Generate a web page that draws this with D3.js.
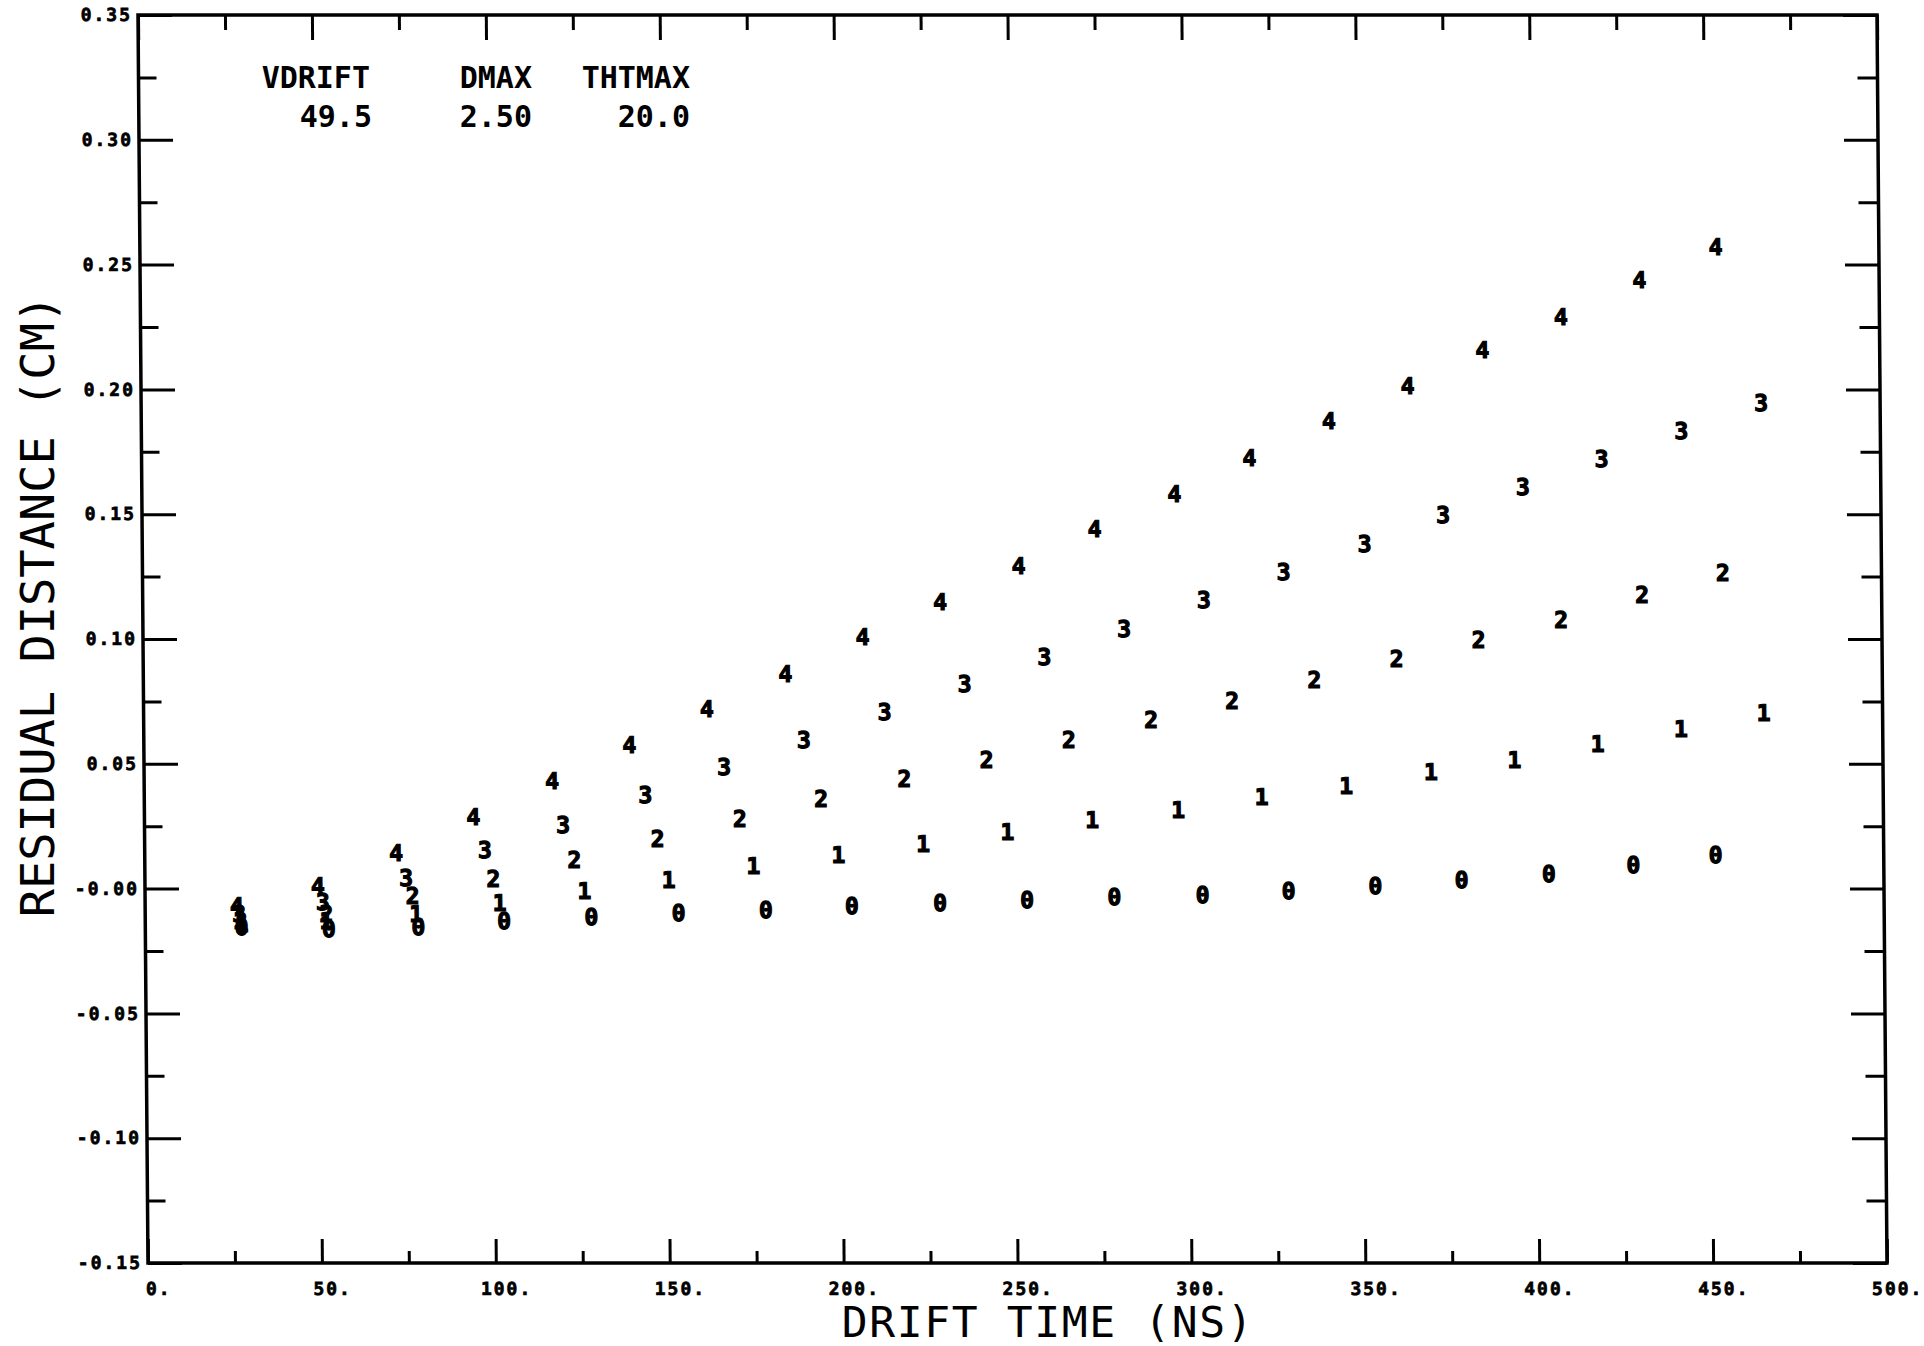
<!DOCTYPE html>
<html>
<head>
<meta charset="utf-8">
<script src="https://cdn.jsdelivr.net/npm/d3@7"></script>
<style>
  html, body { margin: 0; padding: 0; background: #ffffff; }
  svg { display: block; }
</style>
</head>
<body>
<script>
// ---------------- DATA ----------------
const seriesLabels = ["0", "1", "2", "3", "4"];

const time0 = [27.7, 52.8, 78.5, 103.2, 128.3, 153.4, 178.5, 203.2, 228.6, 253.6, 278.7, 304.1, 328.8, 353.8, 378.6, 403.7, 428.0, 451.7];
const resid0 = [-0.0152, -0.0161, -0.0152, -0.0127, -0.0112, -0.0097, -0.0083, -0.0068, -0.0058, -0.0043, -0.0033, -0.0024, -0.0009, 0.0011, 0.0035, 0.0060, 0.0094, 0.0134];

const time1 = [27.7, 52.1, 77.9, 101.9, 126.3, 150.6, 175.0, 199.4, 223.8, 248.1, 272.5, 297.2, 321.3, 345.6, 370.0, 394.0, 418.0, 442.0, 465.8];
const resid1 = [-0.0142, -0.0127, -0.0102, -0.0058, -0.0009, 0.0035, 0.0090, 0.0134, 0.0178, 0.0227, 0.0276, 0.0316, 0.0370, 0.0414, 0.0468, 0.0517, 0.0581, 0.0640, 0.0704];

const time2 = [27.4, 52.1, 76.9, 100.2, 123.5, 147.5, 171.2, 194.6, 218.6, 242.3, 266.0, 289.7, 313.0, 336.7, 360.4, 384.0, 407.8, 431.1, 454.4];
const resid2 = [-0.0127, -0.0102, -0.0029, 0.0040, 0.0114, 0.0198, 0.0281, 0.0360, 0.0439, 0.0517, 0.0596, 0.0675, 0.0753, 0.0837, 0.0920, 0.0999, 0.1078, 0.1176, 0.1265];

const time3 = [27.0, 51.1, 75.1, 97.8, 120.4, 144.1, 166.8, 189.8, 213.1, 236.1, 259.1, 282.1, 305.1, 328.1, 351.5, 374.1, 397.1, 419.8, 442.8, 465.8];
const resid3 = [-0.0102, -0.0053, 0.0045, 0.0154, 0.0257, 0.0375, 0.0488, 0.0596, 0.0709, 0.0822, 0.0930, 0.1043, 0.1156, 0.1269, 0.1383, 0.1496, 0.1609, 0.1722, 0.1835, 0.1948];

const time4 = [26.4, 49.7, 72.3, 94.6, 117.3, 139.6, 162.0, 184.6, 206.9, 229.3, 251.9, 273.9, 296.9, 318.5, 341.5, 364.2, 385.8, 408.4, 431.1, 453.1];
const resid4 = [-0.0068, 0.0011, 0.0144, 0.0286, 0.0434, 0.0576, 0.0719, 0.0861, 0.1009, 0.1151, 0.1294, 0.1441, 0.1584, 0.1726, 0.1874, 0.2016, 0.2159, 0.2292, 0.2439, 0.2572];

const xMajorTicks = [0, 50, 100, 150, 200, 250, 300, 350, 400, 450, 500];
const xTickLabels = ["0.", "50.", "100.", "150.", "200.", "250.", "300.", "350.", "400.", "450.", "500."];
const xMinorTicks = [25, 75, 125, 175, 225, 275, 325, 375, 425, 475];

const yMajorTicks = [-0.15, -0.10, -0.05, 0.00, 0.05, 0.10, 0.15, 0.20, 0.25, 0.30, 0.35];
const yTickLabels = ["-0.15", "-0.10", "-0.05", "-0.00", "0.05", "0.10", "0.15", "0.20", "0.25", "0.30", "0.35"];
const yMinorTicks = [-0.125, -0.075, -0.025, 0.025, 0.075, 0.125, 0.175, 0.225, 0.275, 0.325];

const legendHeaders = ["VDRIFT", "DMAX", "THTMAX"];
const legendValues = ["49.5", "2.50", "20.0"];

const xTitle = "DRIFT TIME (NS)";
const yTitle = "RESIDUAL DISTANCE (CM)";

// ---------------- LAYOUT ----------------
const W = 1924, H = 1346;
const PX = 138, PY = 15, PW = 1739, PH = 1248;
const shearDeg = Math.atan(10 / PH) * 180 / Math.PI;

const svg = d3.select("body").append("svg")
  .attr("width", W).attr("height", H)
  .attr("viewBox", `0 0 ${W} ${H}`);

svg.append("rect").attr("width", W).attr("height", H).attr("fill", "#ffffff");

const x = d3.scaleLinear().domain([0, 500]).range([0, PW]);
const y = d3.scaleLinear().domain([-0.15, 0.35]).range([PH, 0]);

const g = svg.append("g")
  .attr("transform", `translate(${PX},${PY}) skewX(${shearDeg})`);

const tickFont = "'DejaVu Sans Mono', monospace";

function styleAxis(sel, width) {
  sel.select(".domain").remove();
  sel.selectAll(".tick line").attr("stroke", "#000").attr("stroke-width", width);
  sel.selectAll(".tick text")
    .attr("fill", "#000")
    .attr("stroke", "#000")
    .attr("stroke-width", 0.7)
    .style("font-family", tickFont)
    .style("font-weight", "bold")
    .style("font-size", "18px")
    .style("letter-spacing", "2px");
}

// bottom axis
g.append("g").attr("transform", `translate(0,${PH})`)
  .call(d3.axisBottom(x).tickValues(xMajorTicks).tickSize(-24).tickSizeOuter(0)
    .tickPadding(19).tickFormat((d, i) => xTickLabels[i]))
  .call(s => styleAxis(s, 3))
  .call(s => s.selectAll(".tick text").attr("dx", 10));
g.append("g").attr("transform", `translate(0,${PH})`)
  .call(d3.axisBottom(x).tickValues(xMinorTicks).tickSize(-12).tickSizeOuter(0).tickFormat(""))
  .call(s => styleAxis(s, 3));

// top axis
g.append("g")
  .call(d3.axisTop(x).tickValues(xMajorTicks).tickSize(-25).tickSizeOuter(0).tickFormat(""))
  .call(s => styleAxis(s, 3));
g.append("g")
  .call(d3.axisTop(x).tickValues(xMinorTicks).tickSize(-15).tickSizeOuter(0).tickFormat(""))
  .call(s => styleAxis(s, 3));

// left axis
g.append("g")
  .call(d3.axisLeft(y).tickValues(yMajorTicks).tickSize(-34).tickSizeOuter(0)
    .tickPadding(6).tickFormat((d, i) => yTickLabels[i]))
  .call(s => styleAxis(s, 3));
g.append("g")
  .call(d3.axisLeft(y).tickValues(yMinorTicks).tickSize(-18).tickSizeOuter(0).tickFormat(""))
  .call(s => styleAxis(s, 3));

// right axis
g.append("g").attr("transform", `translate(${PW},0)`)
  .call(d3.axisRight(y).tickValues(yMajorTicks).tickSize(-34).tickSizeOuter(0).tickFormat(""))
  .call(s => styleAxis(s, 3));
g.append("g").attr("transform", `translate(${PW},0)`)
  .call(d3.axisRight(y).tickValues(yMinorTicks).tickSize(-20).tickSizeOuter(0).tickFormat(""))
  .call(s => styleAxis(s, 3));

// frame
g.append("rect").attr("x", 0).attr("y", 0).attr("width", PW).attr("height", PH)
  .attr("fill", "none").attr("stroke", "#000").attr("stroke-width", 3.5);

// markers
const allSeries = [
  { label: seriesLabels[0], t: time0, r: resid0 },
  { label: seriesLabels[1], t: time1, r: resid1 },
  { label: seriesLabels[2], t: time2, r: resid2 },
  { label: seriesLabels[3], t: time3, r: resid3 },
  { label: seriesLabels[4], t: time4, r: resid4 }
];

allSeries.forEach(s => {
  const pts = s.t.map((t, i) => ({ t: t, r: s.r[i] }));
  g.append("g").attr("class", "series-" + s.label)
    .selectAll("text").data(pts).join("text")
    .attr("x", d => x(d.t))
    .attr("y", d => y(d.r))
    .attr("dy", "0.36em")
    .attr("text-anchor", "middle")
    .style("font-family", tickFont)
    .style("font-weight", "bold")
    .style("font-size", "23px")
    .attr("fill", "#000")
    .attr("stroke", "#000")
    .attr("stroke-width", 1.2)
    .text(s.label);
});

// legend block
const legendRight = [370, 532, 690];
const legendFont = { family: tickFont, size: "30px" };
legendHeaders.forEach((h, i) => {
  svg.append("text").attr("x", legendRight[i]).attr("y", 88)
    .attr("text-anchor", "end")
    .style("font-family", legendFont.family).style("font-size", legendFont.size)
    .style("font-weight", "bold").attr("fill", "#000").text(h);
});
legendValues.forEach((v, i) => {
  svg.append("text").attr("x", legendRight[i] + (i === 0 ? 2 : 0)).attr("y", 127)
    .attr("text-anchor", "end")
    .style("font-family", legendFont.family).style("font-size", legendFont.size)
    .style("font-weight", "bold").attr("fill", "#000").text(v);
});

// axis titles
svg.append("text").attr("x", 1048).attr("y", 1337)
  .attr("text-anchor", "middle")
  .style("font-family", tickFont).style("font-size", "43px")
  .style("letter-spacing", "1.6px")
  .attr("fill", "#000").text(xTitle);

svg.append("text")
  .attr("transform", "translate(54,606) rotate(-90)")
  .attr("text-anchor", "middle")
  .style("font-family", tickFont).style("font-size", "47px")
  .attr("fill", "#000").text(yTitle);
</script>
</body>
</html>
